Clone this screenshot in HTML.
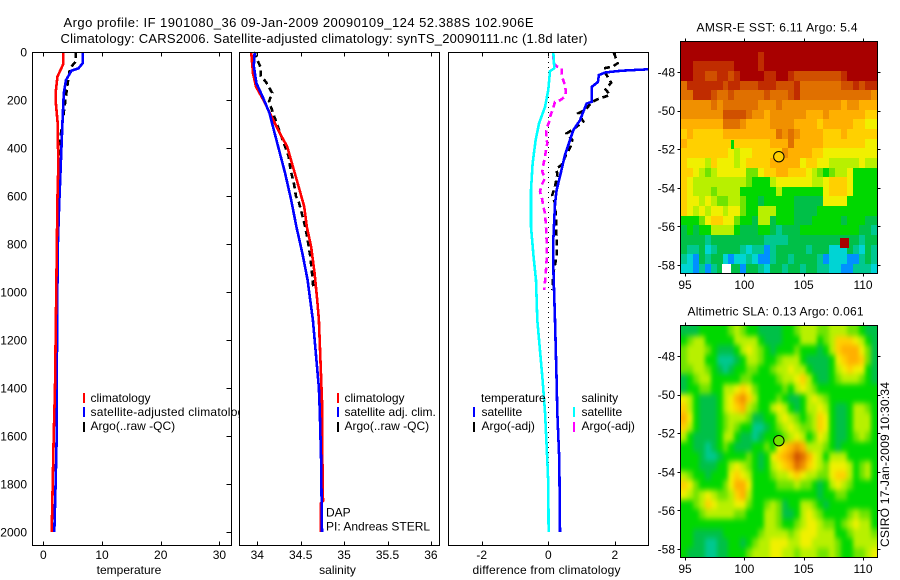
<!DOCTYPE html>
<html>
<head>
<meta charset="utf-8">
<title>Argo profile</title>
<style>
html,body{margin:0;padding:0;background:#fff;width:900px;height:580px;overflow:hidden}
svg{display:block}
text{font-family:"Liberation Sans",sans-serif;font-size:12px;fill:#000}
</style>
</head>
<body>
<svg id="chart" xmlns="http://www.w3.org/2000/svg" width="900" height="580" viewBox="0 0 900 580">
  <defs>
    <filter id="sla-smooth" filterUnits="userSpaceOnUse" x="670" y="315" width="220" height="255" color-interpolation-filters="sRGB">
      <feGaussianBlur stdDeviation="2 3"/>
      <feComponentTransfer><feFuncA type="linear" slope="20"/></feComponentTransfer>
    </filter>
    <clipPath id="sla-clip"><rect x="681" y="326" width="196" height="231"/></clipPath>
  </defs>
  <rect x="0" y="0" width="900" height="580" fill="#fff"/>
  <text x="63.5" y="27" font-size="13" style="font-size:13px" textLength="470" lengthAdjust="spacing">Argo profile: IF 1901080_36 09-Jan-2009 20090109_124 52.388S 102.906E</text>
  <text x="60.5" y="43" style="font-size:13px" textLength="527" lengthAdjust="spacing">Climatology: CARS2006. Satellite-adjusted climatology: synTS_20090111.nc (1.8d later)</text>

  <g id="panel-temp"></g>
  <g>
    <rect x="83" y="393" width="2" height="10" fill="#f00"/>
    <rect x="83" y="407" width="2" height="10" fill="#00f"/>
    <rect x="83" y="422" width="2" height="10" fill="#000"/>
    <text x="90.5" y="402">climatology</text>
    <text x="90.5" y="416" textLength="160" lengthAdjust="spacing">satellite-adjusted climatology</text>
    <text x="90.5" y="430">Argo(..raw -QC)</text>
  </g>

  <g id="panel-sal"></g>
  <g>
    <rect x="337" y="393" width="2" height="10" fill="#f00"/>
    <rect x="337" y="407" width="2" height="10" fill="#00f"/>
    <rect x="337" y="422" width="2" height="10" fill="#000"/>
    <text x="344.5" y="402">climatology</text>
    <text x="344.5" y="416">satellite adj. clim.</text>
    <text x="344.5" y="430">Argo(..raw -QC)</text>
    <text x="326" y="516.5">DAP</text>
    <text x="326" y="530.5">PI: Andreas STERL</text>
  </g>

  <g id="panel-diff"></g>
  <g>
    <text x="481" y="402">temperature</text>
    <rect x="473" y="407" width="2" height="10" fill="#00f"/>
    <rect x="473" y="422" width="2" height="10" fill="#000"/>
    <text x="481.5" y="416">satellite</text>
    <text x="481.5" y="430">Argo(-adj)</text>
    <text x="581.5" y="402">salinity</text>
    <rect x="573" y="407" width="2" height="10" fill="#0ff"/>
    <rect x="573" y="422" width="2" height="10" fill="#f0f"/>
    <text x="581.5" y="416">satellite</text>
    <text x="581.5" y="430">Argo(-adj)</text>
  </g>

  <text x="129" y="574" text-anchor="middle">temperature</text>
  <text x="337.5" y="574" text-anchor="middle">salinity</text>
  <text x="546.5" y="574" text-anchor="middle" textLength="148" lengthAdjust="spacing">difference from climatology</text>

  <text x="696.5" y="31.5" textLength="161" lengthAdjust="spacing">AMSR-E SST: 6.11 Argo: 5.4</text>
  <g id="map-sst"></g>
  <text x="687.5" y="315.5" textLength="176" lengthAdjust="spacing">Altimetric SLA: 0.13 Argo: 0.061</text>
  <g id="map-sla">
    <g clip-path="url(#sla-clip)">
      <g id="sla-cells" filter="url(#sla-smooth)"></g>
    </g>
  </g>
  <text transform="translate(889,547) rotate(-90)" textLength="165" lengthAdjust="spacing">CSIRO 17-Jan-2009 10:30:34</text>
</svg>

<script>
// ---------- axis tick labels ----------
const depthTicks = [0,200,400,600,800,1000,1200,1400,1600,1800,2000];
const tempTicks = [0,10,20,30];
const salTicks = [34,34.5,35,35.5,36];
const diffTicks = [-2,0,2];
const lonTicks = [95,100,105,110];
const latTicks = [48,50,52,54,56,58];

// ---------- temperature profiles ----------
const tempClimDepth = [0,50,61,103,172,215,297,478,617,825,1400,1600,1800,2000];
const tempClim = [3.4,3.4,3.2,2.4,2.1,2.15,2.45,2.55,2.4,2.3,2.0,1.77,1.6,1.43];
const tempSatDepth = [0,47,68,78,117,172,270,478,645,825,1400,1600,1800,2000];
const tempSat = [6.7,6.7,6.0,4.8,3.87,3.5,3.3,2.96,2.7,2.45,2.28,2.28,2.1,1.87];
const tempArgoDepth = [0,40,68,130,196,340,478,617,990];
const tempArgo = [5.5,5.5,4.55,4.15,3.8,3.0,2.67,2.55,2.35];

// ---------- salinity profiles ----------
const salClimDepth = [0,89,144,200,269,339,394,464,547,644,728,811,922,1033,1117,1400,1500,1700,1870,1880,2000];
const salClim = [33.93,33.95,33.985,34.07,34.166,34.26,34.345,34.40,34.465,34.54,34.57,34.62,34.66,34.69,34.71,34.74,34.75,34.75,34.757,34.73,34.73];
const salSatDepth = [0,58,130,185,255,339,422,505,617,728,839,950,1033,1117,1400,1500,1700,2000];
const salSat = [33.97,33.96,33.99,34.06,34.14,34.2,34.26,34.32,34.39,34.45,34.52,34.58,34.61,34.64,34.71,34.72,34.735,34.745];
const salArgoDepth = [0,10,65,100,125,170,207,238,294,364,433,495,544,600,628,669,725,780,850,920,982];
const salArgo = [33.98,33.97,34.04,34.04,34.1,34.17,34.135,34.166,34.22,34.29,34.36,34.385,34.42,34.445,34.48,34.51,34.55,34.58,34.61,34.63,34.645];

// ---------- differences from climatology ----------
const diffTempSatDepth = [60,72,78,85,96,125,146,208,215,285,326,368,430,507,576,632,785,896,1117,1367,1500,1700,2000];
const diffTempSat = [3.4,3,2.2,1.72,1.52,1.49,1.3,1.3,1.15,0.95,0.75,0.65,0.5,0.37,0.25,0.2,0.15,0.15,0.2,0.25,0.27,0.33,0.35];
const diffSalSatDepth = [0,68,80,158,229,298,368,465,576,728,854,951,1117,1367,1500,1700,1800,2000];
const diffSalSat = [0.15,0.18,0.05,0,-0.1,-0.28,-0.38,-0.47,-0.52,-0.52,-0.44,-0.37,-0.33,-0.17,-0.1,-0.03,0,0.01];
const diffTempArgoDepth = [3,47,61,68,89,128,156,179,197,207,242,256,290,322,339,367,394,429,471,485,513,561,596,631,700,783,853,922,992];
const diffTempArgo = [1.97,2.08,1.93,1.67,1.72,1.89,1.72,1.85,1.47,1.33,1.10,0.90,1.05,0.75,0.55,0.72,0.67,0.53,0.40,0.25,0.27,0.20,0.12,0.20,0.23,0.25,0.25,0.15,0.12];
const diffSalArgoDepth = [6,47,61,68,89,110,137,165,186,200,207,242,262,290,318,353,381,408,436,471,499,526,554,582,610,644,672,728,783,867,908,992];
const diffSalArgo = [0.15,0.15,0.27,0.40,0.40,0.43,0.50,0.53,0.50,0.37,0.20,0.13,0.07,0.03,-0.05,-0.07,-0.03,-0.07,-0.10,-0.15,-0.18,-0.10,-0.20,-0.25,-0.19,-0.15,-0.10,-0.07,-0.05,-0.05,-0.07,-0.12];

// ---------- heatmap values (colour-scale level of each 0.5 degree cell) ----------
const sstLevels = [
[0,0,0,0,0,0,0,0,0,0,0,0,0,0,0,0,0,0,0,0,0,0,0,0,0,0,0,0,0,0,0,0,0],
[0,0,0,0,0,0,0,0,0,0,0,0,0,1,0,0,0,0,0,0,0,0,0,0,0,0,0,0,0,0,0,0,0],
[0,0,1,1,1,1,1,1,1,0,0,0,0,1,0,0,0,0,0,0,0,0,0,0,0,0,0,0,0,0,0,0,0],
[0,0,1,1,2,2,1,1,2,1,0,0,0,0,1,1,0,0,1,2,2,2,2,2,2,2,2,1,0,0,0,0,0],
[3,1,1,1,1,1,1,2,1,1,2,2,2,1,1,1,2,2,2,1,3,3,3,3,3,3,3,2,2,1,2,1,1],
[3,3,1,1,1,2,3,3,2,3,3,3,3,3,2,3,3,3,2,1,3,3,3,3,3,3,3,3,3,3,3,3,4],
[4,4,4,4,4,3,4,3,3,3,3,3,3,4,4,4,3,4,4,4,4,4,4,4,4,4,4,5,4,4,5,5,5],
[4,4,4,4,4,4,4,2,2,2,2,3,4,4,5,4,4,4,4,4,4,5,5,5,4,5,5,5,5,5,5,6,6],
[5,5,5,5,5,5,5,3,3,3,4,5,5,5,5,4,4,4,4,5,5,5,5,6,5,5,5,5,5,6,6,7,7],
[6,5,6,6,6,6,6,5,5,5,5,5,5,5,5,5,3,4,3,4,5,5,5,5,6,6,6,5,6,6,6,6,6],
[5,6,6,6,6,6,6,6,6,6,6,6,6,6,6,5,5,5,3,5,5,5,5,5,6,6,6,6,6,6,6,7,7],
[6,6,6,6,6,6,6,6,7,8,7,7,6,6,6,6,6,4,5,5,5,5,6,6,7,7,7,7,7,7,7,7,7],
[6,7,7,7,8,6,7,7,7,8,7,6,6,6,6,5,5,5,5,5,7,6,6,7,7,8,8,8,8,8,7,8,8],
[6,6,7,8,9,8,7,7,7,7,7,9,9,7,6,6,5,5,6,6,6,7,8,9,10,9,8,8,7,10,10,10,10],
[6,7,8,8,8,8,8,8,8,8,8,9,10,10,10,8,7,7,7,7,7,7,8,8,7,6,6,6,7,10,10,10,10],
[6,7,8,8,8,9,8,8,8,8,10,10,10,10,10,10,8,10,10,10,10,10,10,10,7,6,6,6,7,10,10,10,10],
[6,7,7,8,7,8,9,9,8,8,9,10,10,11,10,10,10,10,10,11,11,11,11,11,7,7,7,7,10,10,10,10,10],
[6,7,8,7,8,7,7,8,7,7,9,10,10,8,8,8,10,10,10,11,11,11,11,10,10,10,10,10,10,10,10,10,10],
[10,10,10,9,7,6,6,7,7,9,10,10,11,8,8,11,10,10,10,11,11,11,10,10,10,10,10,11,10,10,10,11,11],
[11,10,11,10,10,8,8,8,8,10,11,11,11,10,10,11,12,11,11,11,10,10,10,10,10,10,10,10,10,10,11,11,12],
[11,11,11,11,12,11,11,11,11,11,11,11,11,11,12,12,12,12,11,11,11,11,11,11,11,11,11,11,11,11,12,11,11],
[11,12,12,11,13,12,11,11,11,11,12,13,12,12,14,12,11,11,11,11,11,12,11,11,11,13,13,13,11,12,13,11,12],
[12,13,14,11,12,11,11,13,14,13,13,12,13,14,14,12,11,11,12,11,11,11,11,12,14,13,13,13,14,14,12,11,12],
[13,13,14,12,14,12,11,11,11,11,14,11,11,12,13,11,11,12,11,11,12,11,11,12,12,13,13,14,14,12,12,12,13]
];
const sstSpotLon = [108.05,98.1,98.85];
const sstSpotLat = [56.6,57.95,51.5];
const sstSpotWidth = [0.75,0.75,0.25];
const sstSpotLevel = [0,-1,10];
const slaLevels = [
[11,11,11,10,10,10,10,10,9,8,9,10,10,11,11,11,11,10,10,9,8,8,8,9,9,8,8,8,9,9,10,11,11],
[10,9,8,8,10,10,10,10,10,8,8,8,8,10,11,11,11,10,10,10,8,8,8,10,9,8,6,6,6,7,8,10,11],
[9,8,8,8,9,10,11,11,11,10,8,7,8,9,10,11,10,10,10,9,10,10,10,11,10,8,6,5,5,5,7,9,11],
[9,8,8,8,10,10,12,12,12,11,10,8,8,9,10,10,9,8,8,8,10,11,11,11,11,10,7,6,5,5,6,9,11],
[9,9,8,8,9,10,11,12,11,10,10,9,9,10,10,9,8,8,7,8,8,10,11,11,11,10,8,7,6,7,7,10,11],
[11,10,9,8,8,10,10,10,10,10,9,9,10,10,10,10,9,8,8,7,6,8,10,11,11,10,9,8,8,8,9,10,11],
[11,10,10,9,9,10,10,8,8,7,6,7,9,10,10,10,10,9,10,8,7,8,9,10,10,10,10,10,10,10,10,10,10],
[7,8,10,11,11,11,10,8,7,5,4,6,8,10,10,10,9,10,11,11,10,8,7,8,9,10,10,10,10,10,10,10,10],
[6,8,10,11,11,11,10,8,7,6,5,8,9,10,10,8,7,8,10,11,10,8,8,7,8,10,11,11,10,8,8,9,10],
[5,7,10,11,11,11,10,9,8,8,8,9,11,11,10,10,8,7,8,9,10,9,8,6,7,10,11,11,10,8,8,8,10],
[6,8,10,11,11,11,10,9,8,9,10,10,12,12,11,10,9,8,7,8,9,9,8,6,7,10,11,11,10,8,8,8,10],
[8,10,11,11,11,11,10,8,8,10,11,11,12,11,10,10,10,9,8,7,8,10,9,7,8,10,11,11,10,9,8,9,10],
[10,10,11,11,12,11,10,9,10,11,11,11,10,10,9,10,7,6,5,4,5,8,8,8,9,10,11,10,10,10,10,10,10],
[10,10,10,11,12,12,11,10,10,10,10,9,10,11,10,7,6,5,4,2,3,5,7,8,10,8,8,8,10,10,10,10,10],
[10,10,10,11,11,11,10,10,8,7,8,9,10,11,10,8,7,6,5,3,4,6,7,8,9,7,7,7,8,10,9,8,10],
[8,9,10,10,11,10,10,10,7,6,7,8,10,10,10,9,8,8,7,6,7,8,8,9,9,7,6,6,8,10,9,8,10],
[6,7,9,10,10,10,10,9,7,5,5,7,10,10,10,10,9,9,9,8,9,9,10,11,10,8,7,8,9,10,10,10,10],
[7,8,9,8,7,8,9,9,8,6,5,8,10,10,10,10,10,10,10,10,10,10,10,11,10,10,9,9,10,10,10,10,10],
[10,10,9,8,6,7,8,8,8,7,7,9,10,10,9,8,9,11,10,10,8,8,9,10,11,10,10,10,10,10,10,10,10],
[10,10,10,9,8,8,8,8,8,9,9,10,10,10,8,8,9,11,11,10,8,7,8,9,10,10,10,10,9,8,9,9,10],
[10,10,10,10,10,10,10,10,10,10,10,10,10,10,8,8,9,10,10,9,8,7,7,8,9,9,10,9,8,7,8,8,10],
[10,10,11,11,11,11,11,10,10,10,10,10,10,9,8,8,8,8,9,8,7,7,7,8,8,8,10,10,9,8,8,8,9],
[10,10,11,11,12,12,11,11,10,10,11,10,9,8,8,7,7,7,8,8,7,7,8,8,8,8,9,10,10,8,8,8,8],
[10,11,11,11,12,12,11,11,10,10,10,9,8,8,8,7,7,8,8,9,8,8,8,9,9,8,9,10,10,9,9,8,7]
];
const floatLon = [102.906];
const floatLat = [52.388];
const sstFloatLevel = [6];
const slaFloatLevel = [9];

// ---------- rendering ----------
const NS = 'http://www.w3.org/2000/svg';
const levelColor = ['#a80000','#c02c00','#d05000','#e07000','#f09000','#ffb000','#ffd000','#f0f000','#b8f000','#70e400','#00d800','#00c048','#00c890','#00d4d4','#0090ff'];
const depthY = d => 52 + 0.24 * d;
const tempX = v => 43.3 + 5.87 * v;
const salX = v => 257.3 + 86.8 * (v - 34);
const diffX = v => 548.3 + 33.3 * v;
const lonX = v => 685 + 11.87 * (v - 95);
const sstLatY = v => 72 + 19.3 * (v - 48);
const slaLatY = v => 356 + 19.3 * (v - 48);

function panelFrame(group, left, right, top, bottom) {
  const bg = document.createElementNS(NS, 'rect');
  
  
  bg.setAttribute('x', left);
  bg.setAttribute('y', top);
  bg.setAttribute('width', right - left);
  bg.setAttribute('height', bottom - top);
  bg.setAttribute('fill', '#fff');
  group.appendChild(bg);
}
function panelBorder(group, left, right, top, bottom) {
  const box = document.createElementNS(NS, 'rect');
  
  
  box.setAttribute('x', left + 0.5);
  box.setAttribute('y', top + 0.5);
  box.setAttribute('width', right - left - 1);
  box.setAttribute('height', bottom - top - 1);
  box.setAttribute('fill', 'none');
  box.setAttribute('stroke', '#000');
  box.setAttribute('shape-rendering', 'crispEdges');
  group.appendChild(box);
}
function tick(group, x1, y1, x2, y2) {
  const l = document.createElementNS(NS, 'line');
  
  
  l.setAttribute('x1', Math.round(x1) + 0.5);
  l.setAttribute('y1', Math.round(y1) + 0.5);
  l.setAttribute('x2', Math.round(x2) + 0.5);
  l.setAttribute('y2', Math.round(y2) + 0.5);
  l.setAttribute('stroke', '#000');
  l.setAttribute('shape-rendering', 'crispEdges');
  group.appendChild(l);
}
function tickLabel(group, str, x, y, anchor) {
  const t = document.createElementNS(NS, 'text');
  
  
  t.setAttribute('x', x);
  t.setAttribute('y', y);
  t.setAttribute('text-anchor', anchor);
  t.textContent = str;
  group.appendChild(t);
}
function profile(group, name, depths, values, xf, color, dash, clipId) {
  const pts = depths.map((d, i) => xf(values[i]).toFixed(1) + ',' + depthY(d).toFixed(1)).join(' ');
  const p = document.createElementNS(NS, 'polyline');
  
  
  p.setAttribute('points', pts);
  p.setAttribute('fill', 'none');
  p.setAttribute('stroke', color);
  p.setAttribute('stroke-width', '2.6');
  p.setAttribute('shape-rendering', 'crispEdges');
  if (dash) p.setAttribute('stroke-dasharray', dash);
  if (clipId) p.setAttribute('clip-path', 'url(#' + clipId + ')');
  group.appendChild(p);
}
function panelTicks(group, ticks, xf, top, bottom, labelY) {
  ticks.forEach(v => {
    const x = xf(v);
    tick(group, x, top, x, top + 4);
    tick(group, x, bottom - 1, x, bottom - 5);
    tickLabel(group, String(v), x, labelY, 'middle');
  });
}

const pT = document.getElementById('panel-temp');
const pS = document.getElementById('panel-sal');
const pD = document.getElementById('panel-diff');
const TOP = 52, BOT = 546, LABY = 559;

panelFrame(pT, 32, 232, TOP, BOT);
profile(pT, 'temperature-argo-line', tempArgoDepth, tempArgo, tempX, '#000', '6 4');
profile(pT, 'temperature-satellite-line', tempSatDepth, tempSat, tempX, '#00f');
profile(pT, 'temperature-climatology-line', tempClimDepth, tempClim, tempX, '#f00');
panelBorder(pT, 32, 232, TOP, BOT);
panelTicks(pT, tempTicks, tempX, TOP, BOT, LABY);
depthTicks.forEach(d => {
  tick(pT, 231, depthY(d), 226, depthY(d));
  tickLabel(pT, String(d), 27, depthY(d) + 4.5, 'end');
});

// the legend text of panel 1 runs under this white background, which clips it
const salLegend = pS.nextElementSibling;
const tempLegend = pT.nextElementSibling;
pS.parentNode.insertBefore(tempLegend, pS);
panelFrame(pS, 239, 440, TOP, BOT);
profile(pS, 'salinity-argo-line', salArgoDepth, salArgo, salX, '#000', '6 4');
profile(pS, 'salinity-climatology-line', salClimDepth, salClim, salX, '#f00');
profile(pS, 'salinity-satellite-line', salSatDepth, salSat, salX, '#00f');
panelBorder(pS, 239, 440, TOP, BOT);
panelTicks(pS, salTicks, salX, TOP, BOT, LABY);

panelFrame(pD, 448, 649, TOP, BOT);
const clip = document.createElementNS(NS, 'clipPath');
clip.setAttribute('id', 'diff-clip');
const clipRect = document.createElementNS(NS, 'rect');
clipRect.setAttribute('x', 448);
clipRect.setAttribute('y', TOP);
clipRect.setAttribute('width', 201);
clipRect.setAttribute('height', BOT - TOP);
clip.appendChild(clipRect);
pD.appendChild(clip);
const zeroLine = document.createElementNS(NS, 'line');


zeroLine.setAttribute('x1', Math.round(diffX(0)) + 0.5);
zeroLine.setAttribute('x2', Math.round(diffX(0)) + 0.5);
zeroLine.setAttribute('y1', depthY(0));
zeroLine.setAttribute('y2', depthY(2000));
zeroLine.setAttribute('stroke', '#000');
zeroLine.setAttribute('stroke-dasharray', '1 4');
zeroLine.setAttribute('shape-rendering', 'crispEdges');
pD.appendChild(zeroLine);
profile(pD, 'difference-temperature-argo-line', diffTempArgoDepth, diffTempArgo, diffX, '#000', '6 4', 'diff-clip');
profile(pD, 'difference-salinity-argo-line', diffSalArgoDepth, diffSalArgo, diffX, '#f0f', '6 4', 'diff-clip');
profile(pD, 'difference-temperature-satellite-line', diffTempSatDepth, diffTempSat, diffX, '#00f', null, 'diff-clip');
profile(pD, 'difference-salinity-satellite-line', diffSalSatDepth, diffSalSat, diffX, '#0ff', null, 'diff-clip');
panelBorder(pD, 448, 649, TOP, BOT);
panelTicks(pD, diffTicks, diffX, TOP, BOT, LABY);

function heatCell(group, name, lon0, lon1, lat0, lat1, latY, level) {
  const r = document.createElementNS(NS, 'rect');
  
  
  const x0 = Math.round(lonX(lon0)), x1 = Math.round(lonX(lon1));
  const y0 = Math.round(latY(lat0)), y1 = Math.round(latY(lat1));
  r.setAttribute('x', x0);
  r.setAttribute('y', y0);
  r.setAttribute('width', x1 - x0);
  r.setAttribute('height', y1 - y0);
  r.setAttribute('fill', level < 0 ? '#fff' : levelColor[level]);
  r.setAttribute('shape-rendering', 'crispEdges');
  group.appendChild(r);
}
function drawMap(group, levels, latY) {
  const LON0 = 94.66, LAT0 = 46.45, STEP = 0.5;
  levels.forEach((row, j) => row.forEach((lev, i) => {
    heatCell(group, 'heatmap-cell', LON0 + i * STEP, LON0 + (i + 1) * STEP, LAT0 + j * STEP, LAT0 + (j + 1) * STEP, latY, lev);
  }));
}
function finishMap(group, top, bottom, floatLevel, xLabelY, latY) {
  const left = 680, right = 878;
  panelBorder(group, left, right, top, bottom);
  lonTicks.forEach(v => {
    const x = lonX(v);
    tick(group, x, top - 3, x, top);
    tick(group, x, bottom - 1, x, bottom + 2);
    tickLabel(group, String(v), x, xLabelY, 'middle');
  });
  latTicks.forEach(v => {
    const y = latY(v);
    tick(group, left - 3, y, left, y);
    tick(group, right - 1, y, right + 2, y);
    tickLabel(group, '-' + v, 675, y + 4.5, 'end');
  });
  const c = document.createElementNS(NS, 'circle');
  
  
  c.setAttribute('cx', lonX(floatLon[0]));
  c.setAttribute('cy', latY(floatLat[0]));
  c.setAttribute('r', 5.2);
  c.setAttribute('fill', levelColor[floatLevel]);
  c.setAttribute('stroke', '#000');
  group.appendChild(c);
}

const gSst = document.getElementById('map-sst');
const gSla = document.getElementById('map-sla');
const gSlaCells = document.getElementById('sla-cells');
drawMap(gSst, sstLevels, sstLatY);
sstSpotLon.forEach((lon, i) => {
  heatCell(gSst, 'heatmap-spot', lon, lon + sstSpotWidth[i], sstSpotLat[i], sstSpotLat[i] + 0.5, sstLatY, sstSpotLevel[i]);
});
finishMap(gSst, 41, 274, sstFloatLevel[0], 289, sstLatY);
drawMap(gSlaCells, slaLevels, slaLatY);
finishMap(gSla, 325, 558, slaFloatLevel[0], 573, slaLatY);
</script>
</body>
</html>
